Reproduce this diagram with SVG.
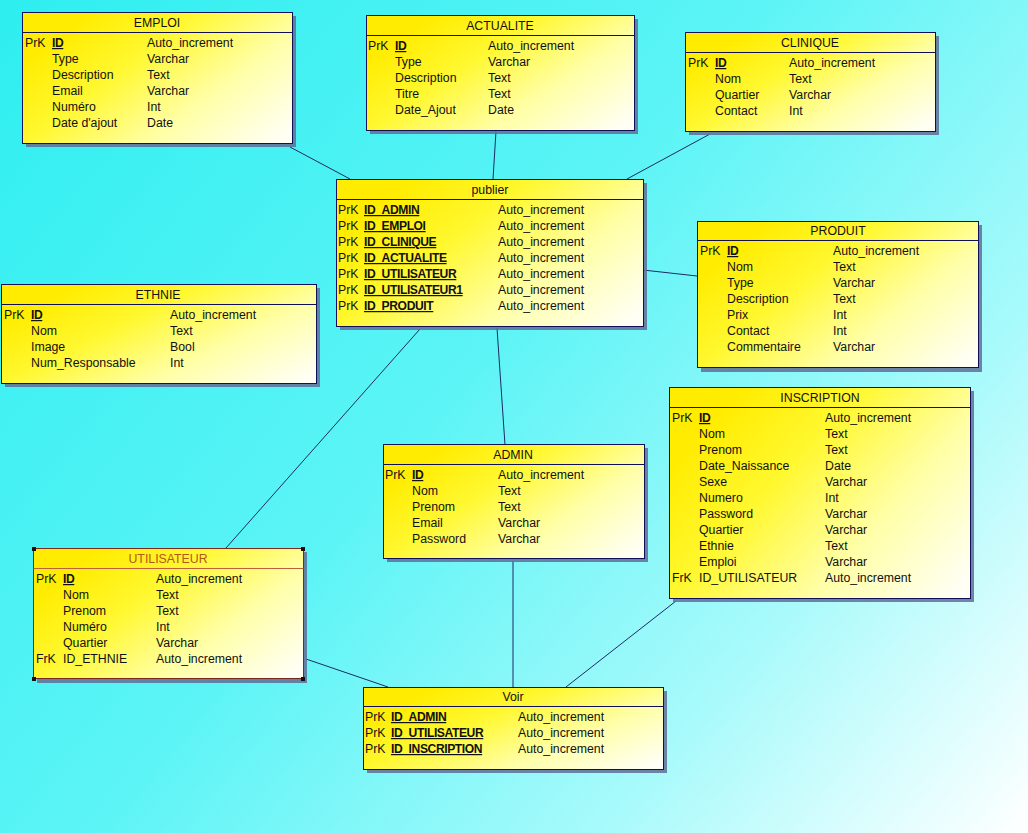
<svg xmlns="http://www.w3.org/2000/svg" width="1028" height="833" viewBox="0 0 1028 833">
<defs>
<linearGradient id="bg" x1="0" y1="0" x2="1028" y2="833" gradientUnits="userSpaceOnUse">
<stop offset="0" stop-color="#2eeef0"/>
<stop offset="0.45" stop-color="#5cf4f6"/>
<stop offset="0.75" stop-color="#a8fafb"/>
<stop offset="1" stop-color="#ffffff"/>
</linearGradient>
<linearGradient id="yel" x1="0.05" y1="0.3" x2="1" y2="0.9">
<stop offset="0" stop-color="#ffec00"/>
<stop offset="0.3" stop-color="#fff830"/>
<stop offset="0.65" stop-color="#ffffa8"/>
<stop offset="1" stop-color="#fffff6"/>
</linearGradient>
<style>
.sh{fill:#5f6f96;opacity:0.85}
.bx{fill:url(#yel);stroke:#10105a;stroke-width:1}
.hl{stroke:#10105a;stroke-width:1}
.sel .bx{stroke:#7a2a1a}
.sel .hl{stroke:#c0603a}
text{font-family:"Liberation Sans",Arial,sans-serif;font-size:12.3px;fill:#111}
.t{text-anchor:middle}
.sel .t{fill:#b4561c}
.k{font-weight:bold;text-decoration:underline;font-size:12.1px;letter-spacing:-0.4px}
.cn line{stroke:#1c2a66;stroke-width:1}
.hd{fill:#111}
</style>
</defs>
<rect x="0" y="0" width="1028" height="833" fill="url(#bg)"/>

<g class="cn" id="connectors">
<line x1="290" y1="147" x2="350" y2="179"/>
<line x1="496" y1="131" x2="493" y2="179"/>
<line x1="710" y1="134" x2="627" y2="179"/>
<line x1="643" y1="270" x2="697" y2="276"/>
<line x1="420" y1="329" x2="226" y2="548"/>
<line x1="497" y1="328" x2="505" y2="445"/>
<line x1="513" y1="561" x2="513" y2="687"/>
<line x1="676" y1="601" x2="566" y2="687"/>
<line x1="306" y1="659" x2="388" y2="687"/>
</g>

<g id="emploi">
<rect class="sh" x="26" y="16" width="270" height="131"/>
<rect class="bx" x="22.5" y="12.5" width="270" height="131"/>
<line class="hl" x1="22.5" y1="32.5" x2="292.5" y2="32.5"/>
<text class="t" x="157" y="27">EMPLOI</text>
<text x="25" y="47">PrK</text><text x="52" y="47" class="k">ID</text><text x="147" y="47">Auto_increment</text>
<text x="52" y="63">Type</text><text x="147" y="63">Varchar</text>
<text x="52" y="79">Description</text><text x="147" y="79">Text</text>
<text x="52" y="95">Email</text><text x="147" y="95">Varchar</text>
<text x="52" y="111">Numéro</text><text x="147" y="111">Int</text>
<text x="52" y="127">Date d'ajout</text><text x="147" y="127">Date</text>
</g>

<g id="actualite">
<rect class="sh" x="370" y="19" width="268" height="115"/>
<rect class="bx" x="366.5" y="15.5" width="268" height="115"/>
<line class="hl" x1="366.5" y1="35.5" x2="634.5" y2="35.5"/>
<text class="t" x="500" y="30">ACTUALITE</text>
<text x="368" y="50">PrK</text><text x="395" y="50" class="k">ID</text><text x="488" y="50">Auto_increment</text>
<text x="395" y="66">Type</text><text x="488" y="66">Varchar</text>
<text x="395" y="82">Description</text><text x="488" y="82">Text</text>
<text x="395" y="98">Titre</text><text x="488" y="98">Text</text>
<text x="395" y="114">Date_Ajout</text><text x="488" y="114">Date</text>
</g>

<g id="clinique">
<rect class="sh" x="689" y="36" width="250" height="99"/>
<rect class="bx" x="685.5" y="32.5" width="250" height="99"/>
<line class="hl" x1="685.5" y1="52.5" x2="935.5" y2="52.5"/>
<text class="t" x="810" y="47">CLINIQUE</text>
<text x="688" y="67">PrK</text><text x="715" y="67" class="k">ID</text><text x="789" y="67">Auto_increment</text>
<text x="715" y="83">Nom</text><text x="789" y="83">Text</text>
<text x="715" y="99">Quartier</text><text x="789" y="99">Varchar</text>
<text x="715" y="115">Contact</text><text x="789" y="115">Int</text>
</g>

<g id="publier">
<rect class="sh" x="340" y="183" width="307" height="147"/>
<rect class="bx" x="336.5" y="179.5" width="307" height="147"/>
<line class="hl" x1="336.5" y1="199.5" x2="643.5" y2="199.5"/>
<text class="t" x="490" y="194">publier</text>
<text x="338" y="214">PrK</text><text x="364" y="214" class="k">ID_ADMIN</text><text x="498" y="214">Auto_increment</text>
<text x="338" y="230">PrK</text><text x="364" y="230" class="k">ID_EMPLOI</text><text x="498" y="230">Auto_increment</text>
<text x="338" y="246">PrK</text><text x="364" y="246" class="k">ID_CLINIQUE</text><text x="498" y="246">Auto_increment</text>
<text x="338" y="262">PrK</text><text x="364" y="262" class="k">ID_ACTUALITE</text><text x="498" y="262">Auto_increment</text>
<text x="338" y="278">PrK</text><text x="364" y="278" class="k">ID_UTILISATEUR</text><text x="498" y="278">Auto_increment</text>
<text x="338" y="294">PrK</text><text x="364" y="294" class="k">ID_UTILISATEUR1</text><text x="498" y="294">Auto_increment</text>
<text x="338" y="310">PrK</text><text x="364" y="310" class="k">ID_PRODUIT</text><text x="498" y="310">Auto_increment</text>
</g>

<g id="produit">
<rect class="sh" x="701" y="225" width="281" height="147"/>
<rect class="bx" x="697.5" y="221.5" width="281" height="146"/>
<line class="hl" x1="697.5" y1="240.5" x2="978.5" y2="240.5"/>
<text class="t" x="838" y="235">PRODUIT</text>
<text x="700" y="255">PrK</text><text x="727" y="255" class="k">ID</text><text x="833" y="255">Auto_increment</text>
<text x="727" y="271">Nom</text><text x="833" y="271">Text</text>
<text x="727" y="287">Type</text><text x="833" y="287">Varchar</text>
<text x="727" y="303">Description</text><text x="833" y="303">Text</text>
<text x="727" y="319">Prix</text><text x="833" y="319">Int</text>
<text x="727" y="335">Contact</text><text x="833" y="335">Int</text>
<text x="727" y="351">Commentaire</text><text x="833" y="351">Varchar</text>
</g>

<g id="ethnie">
<rect class="sh" x="5" y="288" width="315" height="99"/>
<rect class="bx" x="1.5" y="284.5" width="315" height="99"/>
<line class="hl" x1="1.5" y1="304.5" x2="316.5" y2="304.5"/>
<text class="t" x="158" y="299">ETHNIE</text>
<text x="4" y="319">PrK</text><text x="31" y="319" class="k">ID</text><text x="170" y="319">Auto_increment</text>
<text x="31" y="335">Nom</text><text x="170" y="335">Text</text>
<text x="31" y="351">Image</text><text x="170" y="351">Bool</text>
<text x="31" y="367">Num_Responsable</text><text x="170" y="367">Int</text>
</g>

<g id="admin">
<rect class="sh" x="387" y="448" width="261" height="114"/>
<rect class="bx" x="383.5" y="444.5" width="261" height="114"/>
<line class="hl" x1="383.5" y1="464.5" x2="644.5" y2="464.5"/>
<text class="t" x="513" y="459">ADMIN</text>
<text x="385" y="479">PrK</text><text x="412" y="479" class="k">ID</text><text x="498" y="479">Auto_increment</text>
<text x="412" y="495">Nom</text><text x="498" y="495">Text</text>
<text x="412" y="511">Prenom</text><text x="498" y="511">Text</text>
<text x="412" y="527">Email</text><text x="498" y="527">Varchar</text>
<text x="412" y="543">Password</text><text x="498" y="543">Varchar</text>
</g>

<g id="inscription">
<rect class="sh" x="673" y="391" width="301" height="211"/>
<rect class="bx" x="669.5" y="387.5" width="301" height="211"/>
<line class="hl" x1="669.5" y1="407.5" x2="970.5" y2="407.5"/>
<text class="t" x="820" y="402">INSCRIPTION</text>
<text x="672" y="422">PrK</text><text x="699" y="422" class="k">ID</text><text x="825" y="422">Auto_increment</text>
<text x="699" y="438">Nom</text><text x="825" y="438">Text</text>
<text x="699" y="454">Prenom</text><text x="825" y="454">Text</text>
<text x="699" y="470">Date_Naissance</text><text x="825" y="470">Date</text>
<text x="699" y="486">Sexe</text><text x="825" y="486">Varchar</text>
<text x="699" y="502">Numero</text><text x="825" y="502">Int</text>
<text x="699" y="518">Password</text><text x="825" y="518">Varchar</text>
<text x="699" y="534">Quartier</text><text x="825" y="534">Varchar</text>
<text x="699" y="550">Ethnie</text><text x="825" y="550">Text</text>
<text x="699" y="566">Emploi</text><text x="825" y="566">Varchar</text>
<text x="672" y="582">FrK</text><text x="699" y="582">ID_UTILISATEUR</text><text x="825" y="582">Auto_increment</text>
</g>

<g id="utilisateur" class="sel">
<rect class="sh" x="37" y="552" width="270" height="131"/>
<rect class="bx" x="33.5" y="548.5" width="270" height="130"/>
<line class="hl" x1="33.5" y1="568.5" x2="303.5" y2="568.5"/>
<text class="t" x="168" y="563">UTILISATEUR</text>
<text x="36" y="583">PrK</text><text x="63" y="583" class="k">ID</text><text x="156" y="583">Auto_increment</text>
<text x="63" y="599">Nom</text><text x="156" y="599">Text</text>
<text x="63" y="615">Prenom</text><text x="156" y="615">Text</text>
<text x="63" y="631">Numéro</text><text x="156" y="631">Int</text>
<text x="63" y="647">Quartier</text><text x="156" y="647">Varchar</text>
<text x="36" y="663">FrK</text><text x="63" y="663">ID_ETHNIE</text><text x="156" y="663">Auto_increment</text>
<rect class="hd" x="32" y="547" width="4" height="4"/>
<rect class="hd" x="301" y="547" width="4" height="4"/>
<rect class="hd" x="32" y="677" width="4" height="4"/>
<rect class="hd" x="301" y="677" width="4" height="4"/>
</g>

<g id="voir">
<rect class="sh" x="367" y="691" width="300" height="82"/>
<rect class="bx" x="363.5" y="687.5" width="300" height="82"/>
<line class="hl" x1="363.5" y1="706.5" x2="663.5" y2="706.5"/>
<text class="t" x="513" y="701">Voir</text>
<text x="365" y="721">PrK</text><text x="391" y="721" class="k">ID_ADMIN</text><text x="518" y="721">Auto_increment</text>
<text x="365" y="737">PrK</text><text x="391" y="737" class="k">ID_UTILISATEUR</text><text x="518" y="737">Auto_increment</text>
<text x="365" y="753">PrK</text><text x="391" y="753" class="k">ID_INSCRIPTION</text><text x="518" y="753">Auto_increment</text>
</g>
</svg>
